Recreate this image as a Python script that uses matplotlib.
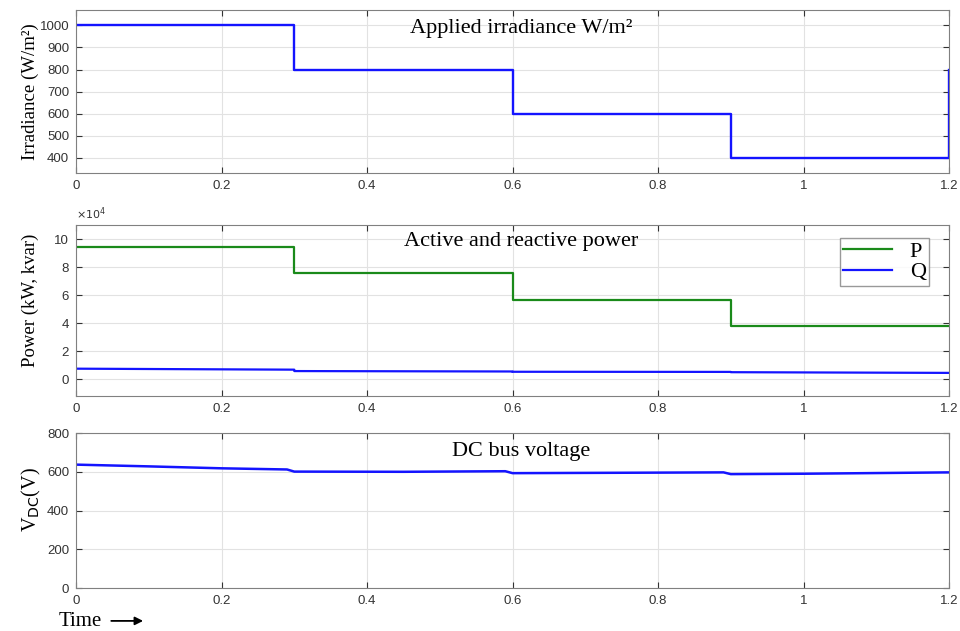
import matplotlib
matplotlib.use("Agg")
import matplotlib.pyplot as plt

# irradiance steps (W/m^2)
t_irr = [0, 0.3, 0.3, 0.6, 0.6, 0.9, 0.9, 1.2, 1.2]
irr = [1000, 1000, 800, 800, 600, 600, 400, 400, 800]

# active / reactive power plateaus (W)
t_pow = [0, 0.3, 0.3, 0.6, 0.6, 0.9, 0.9, 1.2]
p_pow = [9.4e4, 9.4e4, 7.55e4, 7.55e4, 5.68e4, 5.68e4, 3.8e4, 3.8e4]
q_pow = [0.75e4, 0.68e4, 0.58e4, 0.55e4, 0.53e4, 0.52e4, 0.5e4, 0.45e4]

# DC bus voltage (V)
t_dc = [0, 0.1, 0.2, 0.29, 0.3, 0.45, 0.59, 0.6, 0.75, 0.89, 0.9, 1.0, 1.2]
v_dc = [637, 628, 618, 612, 601, 600, 603, 593, 595, 597, 588, 590, 597]

serif = "Liberation Serif"
sans = "Liberation Sans"
blue = "#1414ff"
green = "#1a8a1a"

fig = plt.figure(figsize=(9.6, 6.31), dpi=100)
ax1 = fig.add_axes([0.0792, 0.7258, 0.9094, 0.2583])
ax2 = fig.add_axes([0.0792, 0.3724, 0.9094, 0.2710])
ax3 = fig.add_axes([0.0792, 0.0681, 0.9094, 0.2456])

for ax in (ax1, ax2, ax3):
    ax.set_xlim(0, 1.2)
    ax.set_xticks([0, 0.2, 0.4, 0.6, 0.8, 1, 1.2])
    ax.set_xticklabels(["0", "0.2", "0.4", "0.6", "0.8", "1", "1.2"])
    ax.grid(True, color="#e2e2e2", linewidth=0.8)
    ax.tick_params(direction="in", top=True, right=True, labelsize=9.5,
                   colors="#333333", length=4, pad=5)
    for lab in ax.get_xticklabels() + ax.get_yticklabels():
        lab.set_family(sans)
    for s in ax.spines.values():
        s.set_color("#808080")

ax1.plot(t_irr, irr, color=blue, linewidth=1.7)
ax1.set_ylim(330, 1070)
ax1.set_yticks(range(400, 1001, 100))
for lab in ax1.get_yticklabels():
    lab.set_family(sans)
ax1.set_ylabel("Irradiance (W/m²)", family=serif, fontsize=13.5)
ax1.yaxis.set_label_coords(-0.042, 0.5)
ax1.text(0.51, 0.945, "Applied irradiance W/m²", transform=ax1.transAxes,
         ha="center", va="top", family=serif, fontsize=16)

ax2.plot(t_pow, p_pow, color=green, linewidth=1.6, label="P")
ax2.plot(t_pow, q_pow, color=blue, linewidth=1.6, label="Q")
ax2.set_ylim(-1.2e4, 11e4)
ax2.set_yticks([0, 2e4, 4e4, 6e4, 8e4, 10e4])
ax2.set_yticklabels(["0", "2", "4", "6", "8", "10"], family=sans)
ax2.text(0.0, 1.02, r"$\times10^4$", transform=ax2.transAxes, fontsize=8,
         color="#333333", va="bottom")
ax2.set_ylabel("Power (kW, kvar)", family=serif, fontsize=13.5)
ax2.yaxis.set_label_coords(-0.042, 0.56)
ax2.text(0.51, 0.96, "Active and reactive power", transform=ax2.transAxes,
         ha="center", va="top", family=serif, fontsize=16)
leg = ax2.legend(loc="upper right", prop={"family": serif, "size": 16},
                 frameon=True, fancybox=False, handlelength=2.2,
                 borderpad=0.15, labelspacing=0.0, handletextpad=0.8,
                 borderaxespad=0, bbox_to_anchor=(0.977, 0.925))
leg.get_frame().set_edgecolor("#808080")

ax3.plot(t_dc, v_dc, color=blue, linewidth=1.8)
ax3.set_ylim(0, 800)
ax3.set_yticks(range(0, 801, 200))
for lab in ax3.get_yticklabels():
    lab.set_family(sans)
ax3.set_ylabel("V$_{\\mathrm{DC}}$(V)", family=serif, fontsize=14.5)
ax3.yaxis.set_label_coords(-0.038, 0.57)
ax3.text(0.51, 0.94, "DC bus voltage", transform=ax3.transAxes,
         ha="center", va="top", family=serif, fontsize=16)

fig.text(0.061, 0.008, "Time", family=serif, fontsize=15)
fig.add_artist(matplotlib.patches.FancyArrowPatch(
    (0.113, 0.016), (0.152, 0.016), transform=fig.transFigure,
    arrowstyle="-|>", mutation_scale=12, color="black", linewidth=1.3))

fig.savefig("out.png", dpi=100, facecolor="white")
